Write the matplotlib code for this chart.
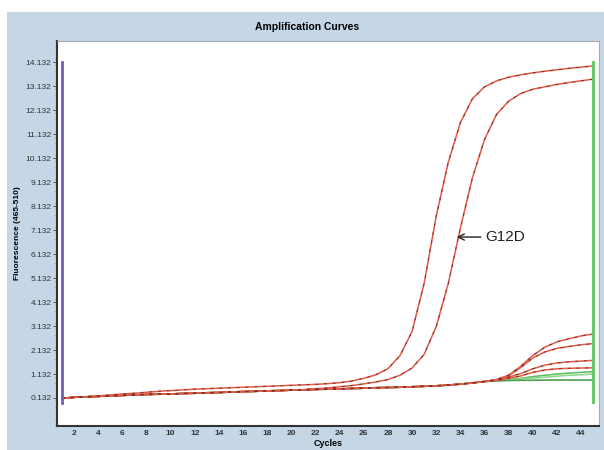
import numpy as np
import matplotlib
matplotlib.use('Agg')
import matplotlib.pyplot as plt
from matplotlib.patches import Rectangle
from matplotlib.ticker import MultipleLocator

plt.rcParams['font.family'] = ['Liberation Sans', 'DejaVu Sans']

#################################################
#            Data
#################################################
cycles = np.arange(1, 46)

# the two early G12D curves
curveA = [0.13, 0.16, 0.19, 0.22, 0.26, 0.30, 0.33, 0.37, 0.41, 0.44,
          0.47, 0.50, 0.52, 0.54, 0.56, 0.58, 0.60, 0.62, 0.64, 0.66,
          0.68, 0.70, 0.73, 0.77, 0.84, 0.95, 1.10, 1.35, 1.90, 2.90,
          4.90, 7.70, 9.95, 11.60, 12.60, 13.10, 13.35, 13.50, 13.60, 13.68,
          13.75, 13.81, 13.87, 13.92, 13.97]
curveB = [0.12, 0.16, 0.18, 0.20, 0.22, 0.24, 0.26, 0.28, 0.29, 0.30,
          0.32, 0.33, 0.35, 0.36, 0.38, 0.40, 0.41, 0.43, 0.44, 0.46,
          0.48, 0.52, 0.55, 0.60, 0.65, 0.72, 0.80, 0.90, 1.08, 1.38,
          1.95, 3.10, 4.90, 7.20, 9.30, 10.90, 11.95, 12.50, 12.82, 13.00,
          13.10, 13.20, 13.28, 13.35, 13.42]

# shared baseline of the late curves, cycles 1-36
lowBase = [0.12, 0.16, 0.18, 0.20, 0.22, 0.24, 0.26, 0.28, 0.29, 0.30,
           0.32, 0.33, 0.35, 0.36, 0.38, 0.40, 0.41, 0.43, 0.44, 0.46,
           0.47, 0.49, 0.50, 0.51, 0.53, 0.54, 0.56, 0.57, 0.58, 0.60,
           0.62, 0.64, 0.67, 0.71, 0.76, 0.82]

# tails, cycles 37-45
tailR1 = [0.90, 1.08, 1.45, 1.90, 2.25, 2.47, 2.60, 2.72, 2.80]
tailR2 = [0.90, 1.06, 1.40, 1.80, 2.05, 2.20, 2.28, 2.35, 2.40]
tailR3 = [0.88, 1.00, 1.15, 1.35, 1.50, 1.59, 1.64, 1.67, 1.70]
tailR4 = [0.86, 0.95, 1.05, 1.20, 1.30, 1.35, 1.37, 1.38, 1.39]
tailG1 = [0.86, 0.90, 0.95, 1.02, 1.08, 1.13, 1.17, 1.20, 1.23]
tailG2 = [0.85, 0.88, 0.92, 0.96, 1.00, 1.04, 1.08, 1.10, 1.13]
tailG3 = [0.85, 0.86, 0.87, 0.87, 0.88, 0.88, 0.88, 0.88, 0.88]

yTicks = np.arange(0.132, 14.2, 1.0)
yLabels = ['%.3f' % v for v in yTicks]
xTicks = np.arange(2, 46, 2)

#################################################
#            Plot
#################################################
fig = plt.figure(figsize=(6.04, 4.5), dpi=100)
fig.patch.set_facecolor('white')
fig.patches.append(Rectangle((7 / 604, 0), 1, 1 - 12 / 450, transform=fig.transFigure,
                             facecolor='#c5d7e7', edgecolor='none', zorder=-10))

ax = fig.add_axes([57 / 604, 24 / 450, 542 / 604, 385 / 450])
ax.set_facecolor('white')

red = '#e35a45'
dark = '#7a3030'

def redCurve(vals):
    ax.plot(cycles, vals, color=red, lw=1.1, zorder=3)
    ax.plot(cycles, vals, color=dark, lw=0.7, dashes=(3, 6), zorder=4)

greens = ['#62bf62', '#93d68f', '#4f9e4f']
for tail, col in zip([tailG1, tailG2, tailG3], greens):
    ax.plot(cycles, lowBase + tail, color=col, lw=1.2, zorder=2)

for tail in [tailR4, tailR3, tailR2, tailR1]:
    redCurve(lowBase + tail)
redCurve(curveB)
redCurve(curveA)

# run markers at first and last cycle
ax.plot([1, 1], [-0.08, 14.132], color='#6a5fc4', lw=2, zorder=5)
ax.plot([45, 45], [-0.04, 14.132], color='#5cc85c', lw=2, zorder=5)

ax.annotate('G12D', xy=(33.7, 6.84), xytext=(36.05, 6.84), fontsize=11,
            va='center', ha='left', color='#222',
            arrowprops=dict(arrowstyle='->', color='#222', lw=1.0,
                            shrinkA=1, shrinkB=0))

ax.set_xlim(0.586, 45.49)
ax.set_ylim(-1.035, 15.01)

ax.set_yticks(yTicks)
ax.set_yticklabels(yLabels)
ax.yaxis.set_minor_locator(MultipleLocator(0.25))
ax.set_xticks(xTicks)
ax.tick_params(axis='y', which='major', length=3, width=0.7, color='#555',
               labelsize=6, labelcolor='#333', pad=1)
ax.tick_params(axis='y', which='minor', length=1.5, width=0.5, color='#777')
ax.tick_params(axis='x', length=0, labelsize=6, labelcolor='#333', pad=3)
for lbl in ax.get_xticklabels():
    lbl.set_fontweight('bold')

for side in ['left', 'bottom']:
    ax.spines[side].set_color('#333')
    ax.spines[side].set_linewidth(1.5)
for side in ['top', 'right']:
    ax.spines[side].set_color('#aaaaaa')
    ax.spines[side].set_linewidth(0.8)

ax.set_xlabel('Cycles', fontsize=6.5, fontweight='bold', labelpad=1)
ax.set_ylabel('Fluorescence (465-510)', fontsize=6, fontweight='bold')
ax.yaxis.set_label_coords(-0.066, 0.5)
fig.text(307 / 604, 1 - 27 / 450, 'Amplification Curves', fontsize=7.5,
         fontweight='bold', ha='center', va='center')

fig.savefig('out.png', dpi=100, facecolor=fig.get_facecolor())
